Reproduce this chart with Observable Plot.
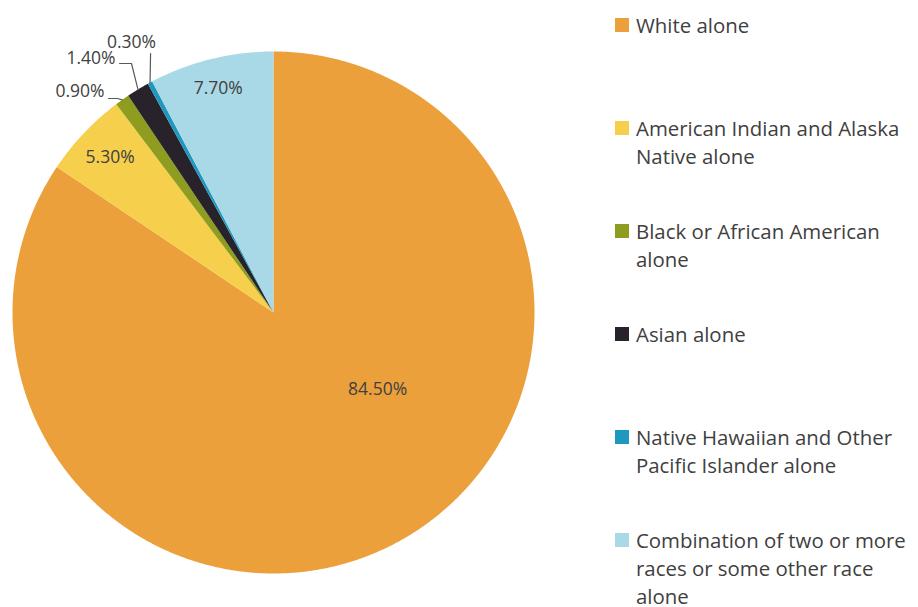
<!DOCTYPE html>
<html>
<head>
<meta charset="utf-8">
<script src="https://cdn.jsdelivr.net/npm/d3@7"></script>
<script src="https://cdn.jsdelivr.net/npm/@observablehq/plot@0.6"></script>
<style>
  html, body { margin: 0; padding: 0; background: #fff; overflow: hidden; }
  #wrap { position: relative; width: 918px; height: 607px; font-family: "Open Sans", sans-serif; }
  #legend { position: absolute; left: 615px; top: 0; width: 303px; height: 607px; }
  .item { position: absolute; left: 0; width: 303px; display: flex; align-items: flex-start; }
  .sw { width: 14px; height: 14px; margin-top: 7px; margin-right: 7px; flex: none; }
  .lab { font-size: 20.4px; line-height: 28px; color: #404040; white-space: pre; }
</style>
</head>
<body>
<div id="wrap"><div id="legend"></div></div>
<script>
// ---- data ----
const categories = [
  "White alone",
  "American Indian and Alaska Native alone",
  "Black or African American alone",
  "Asian alone",
  "Native Hawaiian and Other Pacific Islander alone",
  "Combination of two or more races or some other race alone"
];
const values = [84.5, 5.3, 0.9, 1.4, 0.3, 7.7];
const valueLabels = ["84.50%", "5.30%", "0.90%", "1.40%", "0.30%", "7.70%"];
const legendLabels = [
  "White alone",
  "American Indian and Alaska\nNative alone",
  "Black or African American\nalone",
  "Asian alone",
  "Native Hawaiian and Other\nPacific Islander alone",
  "Combination of two or more\nraces or some other race\nalone"
];
const colors = ["#EBA03C", "#F6D04C", "#8E9D1F", "#28222A", "#1F98C0", "#A9D8E6"];

// ---- label placement (unit-circle coordinates, styling only) ----
// inside labels: [radius fraction, angle in degrees clockwise from top] (null = mid angle)
const insidePlacement = { 0: [0.496, 126.5], 1: [0.862, null], 5: [0.884, null] };
// outside labels: text point and leader elbow points
const outsidePlacement = {
  2: { text: [-0.6475, 0.8467], anchor: "end",    path: [[-0.632, 0.820], [-0.598, 0.820]] },
  3: { text: [-0.6054, 0.9732], anchor: "end",    path: [[-0.590, 0.954], [-0.544, 0.954]] },
  4: { text: [-0.5440, 1.0345], anchor: "middle", path: [[-0.471, 0.992]] }
};

// ---- geometry ----
const arcs = d3.pie().sort(null).value(d => d)(values);
const polyPts = [];
arcs.forEach((a, i) => {
  const cat = categories[i];
  polyPts.push({ cat, x: 0, y: 0 });
  const n = Math.max(2, Math.ceil((a.endAngle - a.startAngle) / (Math.PI / 720)));
  for (let k = 0; k <= n; k++) {
    const t = a.startAngle + (a.endAngle - a.startAngle) * k / n;
    polyPts.push({ cat, x: Math.sin(t), y: Math.cos(t) });
  }
});

const textIn = [];
Object.entries(insidePlacement).forEach(([i, [rf, ang]]) => {
  const a = arcs[+i];
  const t = ang == null ? (a.startAngle + a.endAngle) / 2 : ang * Math.PI / 180;
  textIn.push({ label: valueLabels[+i], x: rf * Math.sin(t), y: rf * Math.cos(t) });
});
const textEnd = [], textMid = [], leaders = [];
Object.entries(outsidePlacement).forEach(([i, p]) => {
  const a = arcs[+i];
  const m = (a.startAngle + a.endAngle) / 2;
  const rec = { label: valueLabels[+i], x: p.text[0], y: p.text[1] };
  (p.anchor === "end" ? textEnd : textMid).push(rec);
  p.path.forEach(([x, y]) => leaders.push({ k: i, x, y }));
  leaders.push({ k: i, x: Math.sin(m), y: Math.cos(m) });
});

const chart = Plot.plot({
  width: 918,
  height: 607,
  margin: 0,
  x: { domain: [-1, 1], range: [12, 534], axis: null },
  y: { domain: [-1, 1], range: [573, 51], axis: null },
  color: { domain: categories, range: colors },
  style: { fontFamily: "'Open Sans', sans-serif", background: "transparent" },
  marks: [
    Plot.line(polyPts, { x: "x", y: "y", z: "cat", fill: "cat", stroke: "none", curve: "linear-closed" }),
    Plot.line(leaders, { x: "x", y: "y", z: "k", stroke: "#5a5a5a", strokeWidth: 1.2 }),
    Plot.text(textIn, { x: "x", y: "y", text: "label", fontSize: 17.5, fill: "#404040" }),
    Plot.text(textEnd, { x: "x", y: "y", text: "label", fontSize: 17.5, fill: "#404040", textAnchor: "end" }),
    Plot.text(textMid, { x: "x", y: "y", text: "label", fontSize: 17.5, fill: "#404040" })
  ]
});
document.getElementById("wrap").prepend(chart);

// ---- legend ----
const legend = document.getElementById("legend");
categories.forEach((c, i) => {
  const item = document.createElement("div");
  item.className = "item";
  item.style.top = (11 + i * 103) + "px";
  const sw = document.createElement("div");
  sw.className = "sw";
  sw.style.background = colors[i];
  const lab = document.createElement("div");
  lab.className = "lab";
  lab.textContent = legendLabels[i];
  item.append(sw, lab);
  legend.append(item);
});
</script>
</body>
</html>
